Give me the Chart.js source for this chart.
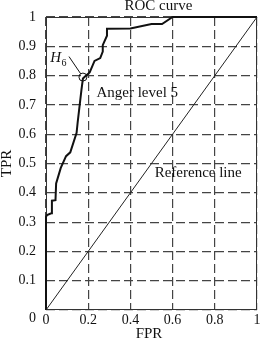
<!DOCTYPE html>
<html>
<head>
<meta charset="utf-8">
<script src="https://cdn.jsdelivr.net/npm/chart.js@4.4.1/dist/chart.umd.min.js"></script>
<style>
  html, body { margin: 0; padding: 0; background: #fff; }
  #wrap { width: 262px; height: 341px; }
</style>
</head>
<body>
<div id="wrap"><canvas id="rocChart" width="262" height="341"></canvas></div>
<script>
// ROC curve
const rocFpr = [0, 0, 0.005, 0.025, 0.028, 0.045, 0.048, 0.07, 0.095, 0.115, 0.145, 0.15, 0.168, 0.175, 0.19, 0.207, 0.23, 0.257, 0.269, 0.269, 0.289, 0.289, 0.40, 0.50, 0.55, 0.60, 1];
const rocTpr = [0, 0.318, 0.324, 0.33, 0.373, 0.375, 0.432, 0.485, 0.525, 0.538, 0.605, 0.64, 0.751, 0.79, 0.80, 0.811, 0.85, 0.86, 0.882, 0.904, 0.936, 0.96, 0.961, 0.976, 0.976, 1, 1];

// diagonal reference line
const refFpr = [0, 1];
const refTpr = [0, 1];

// marked operating point H6
const h6Fpr = [0.175];
const h6Tpr = [0.795];

const xTickValues = [0, 0.2, 0.4, 0.6, 0.8, 1];
const xTickLabels = ['0', '0.2', '0.4', '0.6', '0.8', '1'];
const yTickValues = [0, 0.1, 0.2, 0.3, 0.4, 0.5, 0.6, 0.7, 0.8, 0.9, 1];
const yTickLabels = ['0', '0.1', '0.2', '0.3', '0.4', '0.5', '0.6', '0.7', '0.8', '0.9', '1'];

const serif = "'Liberation Serif', 'Times New Roman', serif";

function toPoints(xs, ys) {
    return xs.map((x, i) => ({ x: x, y: ys[i] }));
}

// texts and the frame round the plot
const rocAnnotations = {
    id: 'rocAnnotations',
    beforeDatasetsDraw(chart) {
        const { ctx, chartArea: a } = chart;
        ctx.save();
        ctx.strokeStyle = '#333';
        ctx.lineWidth = 1;
        ctx.setLineDash([]);
        ctx.strokeRect(a.left + 0.5, a.top + 0.5, a.right - a.left - 1, a.bottom - a.top - 1);
        ctx.restore();
    },
    afterDraw(chart) {
        const { ctx, chartArea: a } = chart;
        const xs = chart.scales.x;
        const ys = chart.scales.y;
        ctx.save();
        ctx.fillStyle = '#111';
        ctx.strokeStyle = '#111';

        // title
        ctx.font = '15px ' + serif;
        ctx.textAlign = 'center';
        ctx.textBaseline = 'alphabetic';
        ctx.fillText('ROC curve', xs.getPixelForValue(0.533), 10);

        // in-plot labels
        ctx.textAlign = 'left';
        ctx.fillText('Anger level 5', xs.getPixelForValue(0.239), ys.getPixelForValue(0.727));
        ctx.fillText('Reference line', xs.getPixelForValue(0.515), ys.getPixelForValue(0.454));

        // H6 label and leader line
        const hx = xs.getPixelForValue(0.02);
        const hy = ys.getPixelForValue(0.846);
        ctx.font = 'italic 15px ' + serif;
        ctx.fillText('H', hx, hy);
        const hw = ctx.measureText('H').width;
        ctx.font = '10px ' + serif;
        ctx.fillText('6', hx + hw + 0.5, hy + 4);

        const px = xs.getPixelForValue(h6Fpr[0]);
        const py = ys.getPixelForValue(h6Tpr[0]);
        const lx = xs.getPixelForValue(0.109);
        const ly = ys.getPixelForValue(0.865);
        const d = Math.hypot(px - lx, py - ly);
        ctx.lineWidth = 1;
        ctx.beginPath();
        ctx.moveTo(lx, ly);
        ctx.lineTo(px - (px - lx) * 4 / d, py - (py - ly) * 4 / d);
        ctx.stroke();

        // the "0" of the y axis sits a little below its line
        ctx.font = '14px ' + serif;
        ctx.textAlign = 'right';
        ctx.textBaseline = 'middle';
        ctx.fillText(yTickLabels[0], a.left - 10, a.bottom + 8);

        // axis titles
        ctx.font = '15px ' + serif;
        ctx.textAlign = 'center';
        ctx.fillText('FPR', 149, 334);
        ctx.translate(7, (a.top + a.bottom) / 2);
        ctx.rotate(-Math.PI / 2);
        ctx.fillText('TPR', 0, 0);
        ctx.restore();
    }
};

const gridStyle = { color: '#444', lineWidth: 1.2, drawTicks: false };
const borderStyle = { display: false, dash: [9, 4] };

new Chart(document.getElementById('rocChart'), {
    type: 'scatter',
    data: {
        datasets: [
            {
                label: 'Reference line',
                data: toPoints(refFpr, refTpr),
                showLine: true,
                borderColor: '#222',
                borderWidth: 1,
                pointRadius: 0,
                clip: false
            },
            {
                label: 'ROC curve',
                data: toPoints(rocFpr, rocTpr),
                showLine: true,
                borderColor: '#111',
                borderWidth: 2,
                tension: 0,
                pointRadius: 0,
                clip: false
            },
            {
                label: 'H6',
                data: toPoints(h6Fpr, h6Tpr),
                showLine: false,
                pointRadius: 4,
                pointBorderWidth: 1,
                pointBorderColor: '#111',
                pointBackgroundColor: 'rgba(255,255,255,0)',
                clip: false
            }
        ]
    },
    options: {
        responsive: false,
        animation: false,
        layout: { padding: { top: 17, right: 2, left: 0, bottom: 0 } },
        plugins: {
            legend: { display: false },
            tooltip: { enabled: false },
            title: { display: false }
        },
        scales: {
            x: {
                type: 'linear',
                min: 0,
                max: 1,
                grid: gridStyle,
                border: borderStyle,
                afterBuildTicks: (scale) => { scale.ticks = xTickValues.map(v => ({ value: v })); },
                afterFit: (scale) => { scale.height = 31; scale.paddingRight = 0; scale.paddingLeft = 0; },
                ticks: {
                    color: '#111',
                    padding: 2,
                    maxRotation: 0,
                    font: { family: serif, size: 14 },
                    callback: (v, i) => xTickLabels[i]
                }
            },
            y: {
                type: 'linear',
                min: 0,
                max: 1,
                grid: gridStyle,
                border: borderStyle,
                afterBuildTicks: (scale) => { scale.ticks = yTickValues.map(v => ({ value: v })); },
                afterFit: (scale) => { scale.width = 46; scale.paddingTop = 0; scale.paddingBottom = 0; },
                ticks: {
                    color: '#111',
                    padding: 10,
                    font: { family: serif, size: 14 },
                    callback: (v, i) => (i === 0 ? '' : yTickLabels[i])
                }
            }
        }
    },
    plugins: [rocAnnotations]
});
</script>
</body>
</html>
